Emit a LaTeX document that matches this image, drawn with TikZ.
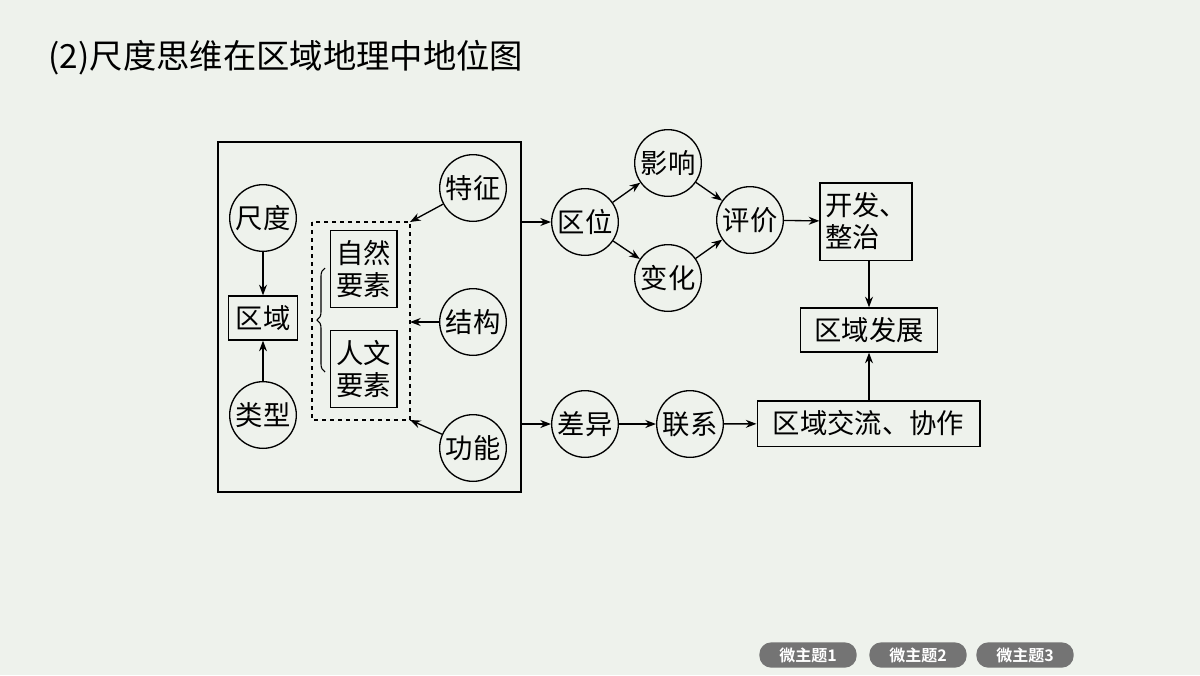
\documentclass[tikz,border=0pt]{standalone}
\usepackage{fontspec}
\newfontfamily\cjk{Noto Sans CJK SC}
\newfontfamily\cjkb{Noto Sans CJK SC Bold}
\usetikzlibrary{arrows.meta,decorations.pathreplacing}
\definecolor{bg}{HTML}{EEF2EC}
\definecolor{btn}{HTML}{747474}
\begin{document}
\begin{tikzpicture}[x=0.75pt,y=-0.75pt,
  every node/.style={font=\cjk\fontsize{20.5}{24}\selectfont},
  circ/.style={draw,circle,line width=1pt,minimum size=50pt,inner sep=0pt},
  box/.style={draw,line width=1pt,inner sep=0pt,align=center},
  arr/.style={-{Stealth[length=8pt,width=6pt]},line width=1pt},
  bt/.style={fill=btn,rounded corners=9pt,minimum width=73pt,minimum height=19pt,inner sep=0pt,text=white,font=\cjkb\fontsize{12}{14}\selectfont}]
\fill[bg] (0,0) rectangle (1200,675);
\useasboundingbox (0,0) rectangle (1200,675);
\node[anchor=west,font=\cjk\fontsize{25}{30}\selectfont] (title) at (44,58) {(2)尺度思维在区域地理中地位图};
\draw[line width=1pt] (218,142) rectangle (521,492);
\node[circ] (cd) at (263,218) {尺度};
\node[box,minimum width=52pt,minimum height=33pt] (qy) at (263,318) {区域};
\node[circ] (lx) at (263,415) {类型};
\draw[arr] (cd) -- (qy);
\draw[arr] (lx) -- (qy);
\draw[dashed,line width=0.9pt] (312,222) rectangle (410,420);
\coordinate (dtop) at (410,222);
\coordinate (dmid) at (410,322);
\coordinate (dbot) at (410,420);
\node[box,minimum width=50pt,minimum height=58pt] (zr) at (363.5,269) {自然\\要素};
\node[box,minimum width=50pt,minimum height=58pt] (rw) at (363.5,369) {人文\\要素};
\draw[line width=0.8pt,decorate,decoration={brace,amplitude=6pt}] (325,372) -- (325,268);
\node[circ] (tz) at (473,188) {特征};
\node[circ] (jg) at (473,322) {结构};
\node[circ] (gn) at (473,448) {功能};
\draw[arr] (tz) -- (dtop);
\draw[arr] (jg) -- (dmid);
\draw[arr] (gn) -- (dbot);
\coordinate (r1) at (521,222);
\coordinate (r2) at (521,424);
\node[circ] (qw) at (585,222) {区位};
\node[circ] (yx) at (668,163) {影响};
\node[circ] (bh) at (668,278) {变化};
\node[circ] (pj) at (750,220) {评价};
\node[box,minimum width=69pt,minimum height=58pt,align=left] (kf) at (866,221.5) {开发、\\整治};
\node[box,minimum width=103pt,minimum height=33pt] (fz) at (869,330) {区域发展};
\node[circ] (cy) at (585,424) {差异};
\node[circ] (lxi) at (690,424) {联系};
\node[box,minimum width=167pt,minimum height=34pt] (jl) at (868.5,423.5) {区域交流、协作};
\draw[arr] (r1) -- (qw);
\draw[arr] (qw) -- (yx);
\draw[arr] (qw) -- (bh);
\draw[arr] (yx) -- (pj);
\draw[arr] (bh) -- (pj);
\draw[arr] (pj) -- (kf);
\draw[arr] (kf.south -| fz.north) -- (fz.north);
\draw[arr] (jl.north -| fz.south) -- (fz.south);
\draw[arr] (r2) -- (cy);
\draw[arr] (cy) -- (lxi);
\draw[arr] (lxi) -- (jl);
\node[bt] (b1) at (808,655) {微主题1};
\node[bt] (b2) at (918,655) {微主题2};
\node[bt] (b3) at (1025,655) {微主题3};
\end{tikzpicture}
\end{document}
